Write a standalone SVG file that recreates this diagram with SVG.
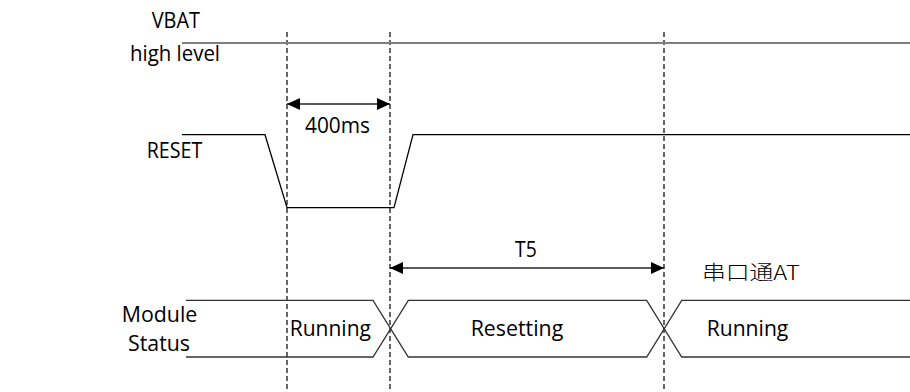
<svg xmlns="http://www.w3.org/2000/svg" width="910" height="392" viewBox="0 0 910 392">
<defs>
<marker id="ah" viewBox="0 0 13 12" refX="13" refY="6" markerWidth="13" markerHeight="12" markerUnits="userSpaceOnUse" orient="auto-start-reverse">
<path d="M0,0 L13,6 L0,12 Z" fill="#000"/>
</marker>
</defs>
<style>
text{font-family:"Open Sans","Liberation Sans","Noto Sans CJK SC",sans-serif;font-size:21px;fill:#000}
.cjk{font-family:"Noto Sans CJK SC","Open Sans",sans-serif;font-weight:300;font-size:20px}
.dash{stroke:#000;stroke-width:1.2;stroke-dasharray:5,3;fill:none}
.sig{stroke:#000;stroke-width:1.3;fill:none}
.bus{stroke:#333;stroke-width:1.3;fill:none}
.vbat{stroke:#7f7f7f;stroke-width:2.2;fill:none}
.arr{stroke:#222;stroke-width:1.4;fill:none}
</style>
<g id="connectors">
<line class="dash" x1="287" y1="32" x2="287" y2="392"/>
<line class="dash" x1="390" y1="32" x2="390" y2="392"/>
<line class="dash" x1="664" y1="32" x2="664" y2="392"/>
<line class="arr" x1="287" y1="104" x2="390" y2="104" marker-start="url(#ah)" marker-end="url(#ah)"/>
<line class="arr" x1="390" y1="268" x2="664" y2="268" marker-start="url(#ah)" marker-end="url(#ah)"/>
</g>
<g id="vbat">
<line class="vbat" x1="182" y1="43" x2="910" y2="43"/>
<text x="151.7" y="28" textLength="48.3" lengthAdjust="spacingAndGlyphs">VBAT</text>
<text x="130" y="61" textLength="90" lengthAdjust="spacingAndGlyphs">high level</text>
</g>
<g id="reset">
<polyline class="sig" points="182,134.7 265,134.7 287,207.7 394,207.7 413,134.7 910,134.7"/>
<text x="146.7" y="158" textLength="55.6" lengthAdjust="spacingAndGlyphs">RESET</text>
</g>
<g id="t400">
<text x="305" y="133" textLength="65" lengthAdjust="spacingAndGlyphs">400ms</text>
</g>
<g id="t5">
<text x="515" y="257" textLength="21.7" lengthAdjust="spacingAndGlyphs">T5</text>
</g>
<g id="uart">
<text class="cjk" x="702" y="280" textLength="98" lengthAdjust="spacingAndGlyphs">串口通AT</text>
</g>
<g id="module-status">
<text x="121.7" y="321.5" textLength="75.6" lengthAdjust="spacingAndGlyphs">Module</text>
<text x="128" y="350.5" textLength="62" lengthAdjust="spacingAndGlyphs">Status</text>
<polyline class="bus" points="186,300.3 373,300.3 408.3,357 646.7,357 681.7,300.3 910,300.3"/>
<polyline class="bus" points="186,357 373,357 408.3,300.3 646.7,300.3 681.7,357 910,357"/>
<text x="289.7" y="335.5" textLength="81.3" lengthAdjust="spacingAndGlyphs">Running</text>
<text x="470.7" y="335.5" textLength="92.6" lengthAdjust="spacingAndGlyphs">Resetting</text>
<text x="706.7" y="335.5" textLength="81.6" lengthAdjust="spacingAndGlyphs">Running</text>
</g>
</svg>
